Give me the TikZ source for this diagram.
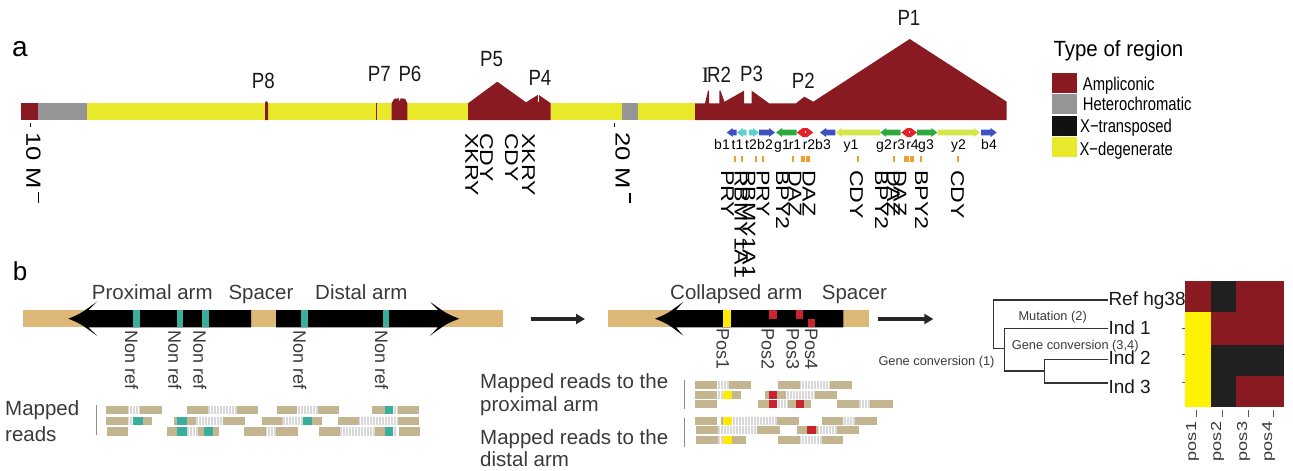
\documentclass[tikz,border=0pt]{standalone}
\usepackage{fontspec}
\setmainfont{Liberation Sans}
\newfontfamily\tallfont[FakeStretch=1.25]{Liberation Sans}
\newfontfamily\narrowfont[FakeStretch=0.8]{Liberation Sans}
\newfontfamily\pfont[FakeStretch=0.85]{Liberation Sans}
\newfontfamily\titlefont[FakeStretch=0.93]{Liberation Sans}
\newfontfamily\serifI{Liberation Serif}
\usetikzlibrary{arrows.meta,patterns}

\definecolor{ampred}{HTML}{8A1A21}
\definecolor{hetgray}{HTML}{959595}
\definecolor{xdeg}{HTML}{E9E92B}
\definecolor{xtrans}{HTML}{111111}
\definecolor{gblue}{HTML}{3F4FBF}
\definecolor{gcyan}{HTML}{5FD0D0}
\definecolor{ggreen}{HTML}{2EAA3C}
\definecolor{gred}{HTML}{E52228}
\definecolor{gyel}{HTML}{D2E84A}
\definecolor{gorange}{HTML}{EFA030}
\definecolor{armtan}{HTML}{DDB876}
\definecolor{nonref}{HTML}{3AAE9C}
\definecolor{readtan}{HTML}{C4B591}
\definecolor{readgray}{HTML}{D8D8D8}
\definecolor{posred}{HTML}{C8232E}
\definecolor{posyel}{HTML}{FFEA00}
\definecolor{txtgray}{HTML}{3A3A3A}
\definecolor{hmblack}{HTML}{202020}
\definecolor{hmyel}{HTML}{FFF200}

\newcommand\fsz[1]{\fontsize{#1}{#1}\selectfont}
% gene arrows on the row y = 132.5 : left-, right- and double-headed
\newcommand\geneL[3]{\fill[#3] (#1,132.5) -- (#1+6,128) -- (#1+6,129.6) -- (#2,129.6) -- (#2,135.4) -- (#1+6,135.4) -- (#1+6,137) -- cycle;}
\newcommand\geneR[3]{\fill[#3] (#2,132.5) -- (#2-6,128) -- (#2-6,129.6) -- (#1,129.6) -- (#1,135.4) -- (#2-6,135.4) -- (#2-6,137) -- cycle;}
\newcommand\geneD[3]{\fill[#3] (#1,132.5) -- (#1+6,128) -- (#2-6,128) -- (#2,132.5) -- (#2-6,137) -- (#1+6,137) -- cycle;
  \draw[white, line width=0.8] ({(#1+#2)/2},130.6) -- ({(#1+#2)/2},133.2);}
% one row of reads: top y, list of x1/x2/style
\newcommand\readrow[2]{\foreach \xa/\xb/\st in {#2}{\fill[\st] (\xa,#1) rectangle (\xb,#1+8.3);}}

\begin{document}
\begin{tikzpicture}[x=1pt,y=-1pt,
  plab/.style={anchor=base west, inner sep=0, font=\pfont\fsz{22}, text=black!90},
  glab/.style={rotate=-90, anchor=base west, inner sep=0, font={\tallfont\fsz{18.5}}},
  mblab/.style={rotate=-90, anchor=base west, inner sep=0, font={\tallfont\fsz{20.5}}},
  slab/.style={anchor=base, inner sep=0, font=\fsz{14}},
  legtext/.style={anchor=base west, inner sep=0, font={\narrowfont\fsz{18.5}}},
  armlab/.style={anchor=base west, inner sep=0, font=\fsz{20.5}, text=txtgray},
  vlab/.style={rotate=-90, anchor=base west, inner sep=0, font=\fsz{18}, text=txtgray},
  hmlab/.style={rotate=90, anchor=base east, inner sep=0, font={\tallfont\fsz{14.5}}, text=txtgray},
  leaf/.style={anchor=base west, inner sep=0, font=\fsz{19}, text=black!90},
  event/.style={anchor=base west, inner sep=0, font=\fsz{12.8}, text=txtgray},
  tree/.style={draw=black!80, line width=1.6},
  flow/.style={draw=black!85, line width=3.5, -{Triangle[length=9pt,width=10pt]}},
  rdtan/.style={fill=readtan},
  rdhatch/.style={fill=readgray, postaction={pattern=vertical lines, pattern color=white}},
  rdteal/.style={fill=nonref},
  rdyel/.style={fill=posyel},
  rdred/.style={fill=posred},
  cellr/.style={fill=ampred},
  cellk/.style={fill=hmblack},
  celly/.style={fill=hmyel}]
\useasboundingbox (0,0) rectangle (1293,471);

% ---------------- panel a ----------------
\node[anchor=base west, inner sep=0, font=\fsz{28}] (lbla) at (12,56.7) {a};

% chromosome bar
\fill[ampred] (21,103.3) rectangle (38,120);
\fill[hetgray] (38,103.3) rectangle (87,120);
\fill[xdeg] (87,103.3) rectangle (695,120);
\fill[hetgray] (622,103.3) rectangle (637.7,120);
\fill[ampred] (265,120) -- (265,103.3) -- (265.6,101.4) -- (267.2,101.4) -- (268,103.3) -- (268,120) -- cycle;
\fill[ampred] (375.7,103.3) rectangle (377.3,120);
\fill[ampred] (391.7,120) -- (391.7,103.3) -- (394,98.8) -- (398.8,98.3) -- (399.7,101.8) -- (400.6,98.3) -- (405.2,98.8) -- (407.3,103.3) -- (407.3,120) -- cycle;
\fill[ampred] (468,120) -- (468,103.3) -- (497.3,81.7) -- (526,102.3) -- (537.7,95) -- (539,95) -- (550.7,103.3) -- (550.7,120) -- cycle;
\draw[white, line width=1] (538.3,94.5) -- (538.3,101.5);
\fill[ampred] (695,120) -- (695,103.3) -- (705,103.3) -- (708,90.7) -- (709,90.7) -- (709,103.3) -- (719.3,103.3) -- (719.3,90.7) -- (720.5,90.7) -- (724.5,101.8) -- (744,90.7) -- (744,103.3) -- (751.7,103.3) -- (751.7,90.7) -- (769,103.3) -- (796,103.3) -- (804.3,96.7) -- (813.3,101.7) -- (909.7,39) -- (1006.7,101.7) -- (1006.7,120) -- cycle;

% palindrome names
\node[plab] (p8) at (251.7,88.3) {P8};
\node[plab] (p7) at (367.7,81.7) {P7};
\node[plab] (p6) at (398.3,81.7) {P6};
\node[plab] (p5) at (480,66) {P5};
\node[plab] (p4) at (528.3,85) {P4};
\node[plab] (ir2) at (701.7,82) {{\serifI I}\kern-2pt R2};
\node[plab] (p3) at (740,81.7) {P3};
\node[plab] (p2) at (791.7,88.3) {P2};
\node[plab] (p1) at (897.3,25) {P1};

% position ticks and labels
\draw[line width=1] (30,123) -- (30,127);
\draw[line width=1] (614.5,123) -- (614.5,127);
\node[mblab] (mb10) at (26.5,132) {10 M};
\node[mblab] (mb20) at (615.5,132) {20 M};
\draw[line width=1.5] (38.5,192) -- (38.5,203);
\draw[line width=1.5] (630,193) -- (630,203);

% genes in P5/P4
\node[glab] (gxkry1) at (465.3,133) {XKRY};
\node[glab] (gcdy1) at (480.2,133) {CDY};
\node[glab] (gcdy2) at (505.2,133) {CDY};
\node[glab] (gxkry2) at (522,133) {XKRY};

% arm arrows of P3, P2 and P1
\geneL{726.7}{736.7}{gblue}
\geneL{736.9}{746.7}{gcyan}
\geneR{749}{759}{gcyan}
\geneR{759.2}{775}{gblue}
\geneL{776}{796.5}{ggreen}
\geneD{796.7}{813.3}{gred}
\geneL{820}{835.3}{gblue}
\geneL{835.7}{880}{gyel}
\geneL{880.2}{900.5}{ggreen}
\geneD{901.2}{917}{gred}
\geneR{917.2}{937.3}{ggreen}
\geneR{937.5}{980}{gyel}
\geneR{981}{996.7}{gblue}

\node[slab] (sb1) at (722,149.3) {b1};
\node[slab] (st1) at (737.5,149.3) {t1};
\node[slab] (st2) at (751,149.3) {t2};
\node[slab] (sb2) at (765,149.3) {b2};
\node[slab] (sg1) at (782,149.3) {g1};
\node[slab] (sr1) at (795,149.3) {r1};
\node[slab] (sr2) at (809,149.3) {r2};
\node[slab] (sb3) at (823,149.3) {b3};
\node[slab] (sy1) at (851,149.3) {y1};
\node[slab] (sg2) at (884,149.3) {g2};
\node[slab] (sr3) at (899,149.3) {r3};
\node[slab] (sr4) at (912.5,149.3) {r4};
\node[slab] (sg3) at (926,149.3) {g3};
\node[slab] (sy2) at (958.5,149.3) {y2};
\node[slab] (sb4) at (989,149.3) {b4};

% gene positions
\foreach \gx in {734.5,741.5,756,762.5,793,857.7,894.3,920.7,957.7}
  {\fill[gorange] (\gx-1,156) rectangle (\gx+1,161.7);}
\fill[gorange] (801,156) rectangle (804.5,161.7);
\fill[gorange] (806,156) rectangle (810,161.7);
\fill[gorange] (904.3,156) rectangle (908.7,161.7);
\fill[gorange] (910,156) rectangle (914.3,161.7);

\node[glab] (gpry1) at (721,170) {PRY};
\node[glab] (grbmy1) at (734.5,170) {RBMY1A1};
\node[glab] (grbmy2) at (742.5,170) {RBMY1A1};
\node[glab] (gpry2) at (756.5,170) {PRY};
\node[glab] (gbpy1) at (776,170) {BPY2};
\node[glab] (gdaz1) at (788.5,170) {DAZ};
\node[glab] (gdaz2) at (802.5,170) {DAZ};
\node[glab] (gcdy3) at (850,170) {CDY};
\node[glab] (gbpy2) at (875,170) {BPY2};
\node[glab] (gdaz3) at (887,170) {DAZ};
\node[glab] (gdaz4) at (893.5,170) {DAZ};
\node[glab] (gbpy3) at (915,170) {BPY2};
\node[glab] (gcdy4) at (951,170) {CDY};

% legend
\node[anchor=base west, inner sep=0, font={\titlefont\fsz{22}}] (legtitle) at (1053.3,56.7) {Type of region};
\fill[ampred] (1051.7,73.3) rectangle (1077.3,92.7);
\fill[hetgray] (1051.7,94) rectangle (1077.3,114);
\fill[xtrans] (1051.7,116) rectangle (1077.3,136);
\fill[xdeg] (1051.7,137.3) rectangle (1077.3,157.3);
\node[legtext] (legamp) at (1082.7,90) {Ampliconic};
\node[legtext] (leghet) at (1082.7,110) {Heterochromatic};
\node[legtext] (legxt) at (1080,132.7) {X−transposed};
\node[legtext] (legxd) at (1079.3,155) {X−degenerate};

% ---------------- panel b ----------------
\node[anchor=base west, inner sep=0, font=\fsz{26}] (lblb) at (12.7,280) {b};

% palindrome with two arms
\node[armlab] (proxlab) at (91.7,299.5) {Proximal arm};
\node[armlab] (spclab) at (228.3,299.5) {Spacer};
\node[armlab] (distlab) at (315,299.5) {Distal arm};
\fill[armtan] (23.3,310) rectangle (503.3,327.3);
\fill[black] (68.3,318.7) .. controls (80,314) .. (97,301.7) -- (88.5,310) -- (251,310) -- (251,327.3) -- (88.5,327.3) -- (97,335.7) .. controls (80,323.4) .. (68.3,318.7) -- cycle;
\fill[black] (276,310) -- (438,310) -- (430,301.7) .. controls (447,314) .. (459.3,318.7) .. controls (447,323.4) .. (430,335.7) -- (438,327.3) -- (276,327.3) -- cycle;
\foreach \mx in {133.3,176.7,202.3,301,382.7}
  {\fill[nonref] (\mx,310) rectangle (\mx+6.7,327.3);}
\node[vlab] (nr1) at (125,330) {Non ref};
\node[vlab] (nr2) at (168.3,330) {Non ref};
\node[vlab] (nr3) at (193.3,330) {Non ref};
\node[vlab] (nr4) at (293.3,330) {Non ref};
\node[vlab] (nr5) at (375,330) {Non ref};

\node[armlab] (mr1) at (5,415.7) {Mapped};
\node[armlab] (mr2) at (5,441.7) {reads};
\draw[black!45, line width=1] (96,405) -- (96,435);
\readrow{406}{106/128.3/rdtan, 128.3/140/rdhatch, 140/161.7/rdtan, 187.3/208.3/rdtan, 208.3/237.3/rdhatch, 237.3/258.3/rdtan, 276.7/296.7/rdtan, 296.7/318.3/rdhatch, 318.3/339.3/rdtan, 371.7/385/rdtan, 385/393.3/rdteal, 393.3/398.3/rdhatch, 398.3/419.3/rdtan}
\readrow{416.7}{106/128.3/rdtan, 128.3/133.3/rdhatch, 133.3/142.7/rdteal, 142.7/151.7/rdtan, 174/177.3/rdtan, 177.3/186.7/rdteal, 186.7/196/rdtan, 196/223.3/rdhatch, 223.3/245/rdtan, 261.7/282.7/rdtan, 282.7/303.3/rdhatch, 303.3/311.7/rdteal, 311.7/321.7/rdtan, 337.7/359.3/rdtan, 359.3/398.3/rdhatch, 398.3/419.3/rdtan}
\readrow{427.3}{106.7/128.3/rdtan, 167.3/177.3/rdtan, 177.3/187.3/rdteal, 187.3/198.3/rdhatch, 198.3/204/rdtan, 204/213.3/rdteal, 213.3/219/rdtan, 244.3/266/rdtan, 266/276/rdhatch, 276/298.3/rdtan, 319/340/rdtan, 340/375/rdhatch, 375/385/rdtan, 385/393.3/rdteal, 393.3/396.7/rdhatch, 399/420/rdtan}

% collapsed reference
\coordinate (flowa) at (530.7,319);
\coordinate (flowb) at (585,319);
\draw[flow] (flowa) -- (flowb);
\node[armlab] (collab) at (670,299.5) {Collapsed arm};
\node[armlab] (spclab2) at (821.7,299.5) {Spacer};
\fill[armtan] (608.3,310) rectangle (869.3,327.3);
\fill[black] (655,318.7) .. controls (667,314) .. (683.3,301.7) -- (676,310) -- (843.3,310) -- (843.3,327.3) -- (676,327.3) -- (683.3,335.7) .. controls (667,323.4) .. (655,318.7) -- cycle;
\fill[posyel] (723.3,310) rectangle (730.7,327.3);
\fill[posred] (769,310) rectangle (776.7,319);
\fill[posred] (795.7,310) rectangle (803.3,319);
\fill[posred] (807.7,319.3) rectangle (815,327.3);
\node[vlab] (pos1) at (716.7,328.3) {Pos1};
\node[vlab] (pos2) at (761.7,328.3) {Pos2};
\node[vlab] (pos3) at (786.7,328.3) {Pos3};
\node[vlab] (pos4) at (805,328.3) {Pos4};

\node[armlab] (mp1) at (480,388.3) {Mapped reads to the};
\node[armlab] (mp2) at (480,411.7) {proximal arm};
\node[armlab] (md1) at (480,444.3) {Mapped reads to the};
\node[armlab] (md2) at (480,466) {distal arm};
\draw[black!45, line width=1] (684,380) -- (684,409.3);
\draw[black!45, line width=1] (684,418.3) -- (684,446.7);
\readrow{381}{695/716.7/rdtan, 716.7/729.3/rdhatch, 729.3/751/rdtan, 778.3/800/rdtan, 800/830/rdhatch, 830/851.7/rdtan}
\readrow{390.7}{695/716.7/rdtan, 716.7/722.7/rdhatch, 722.7/731.7/rdyel, 731.7/740.7/rdtan, 765/769/rdtan, 769/777.3/rdred, 777.3/786/rdtan, 786/815/rdhatch, 815/836.7/rdtan}
\readrow{400}{695/716.7/rdtan, 758.3/769/rdtan, 769/777.3/rdred, 777.3/788.3/rdhatch, 788.3/795.7/rdtan, 795.7/804/rdred, 804/810.7/rdtan, 836.7/859.3/rdtan, 859.3/870/rdhatch, 870/892.7/rdtan}
\readrow{416.7}{695/716.7/rdtan, 720.7/722.7/rdtan, 722.7/731.7/rdyel, 731.7/776.7/rdhatch, 776.7/799.3/rdtan, 821.7/843.3/rdtan, 843.3/855/rdhatch, 855/876.7/rdtan}
\readrow{426}{696/718.3/rdtan, 718.3/757.3/rdhatch, 757.3/780/rdtan, 796.7/806.7/rdtan, 806.7/815.7/rdred, 815.7/818.3/rdtan, 818.3/836.7/rdhatch, 836.7/859.3/rdtan}
\readrow{436}{696/718.3/rdtan, 718.3/722.7/rdhatch, 722.7/731.7/rdyel, 731.7/746/rdtan, 778.3/800/rdtan, 800/821.7/rdhatch, 821.7/843.3/rdtan}

% genealogy of the haplotypes
\coordinate (flowc) at (878.3,319);
\coordinate (flowd) at (933.3,319);
\draw[flow] (flowc) -- (flowd);
\node[leaf] (ref) at (1108.3,305) {Ref hg38};
\node[leaf] (ind1) at (1108.3,334) {Ind 1};
\node[leaf] (ind2) at (1108.3,364) {Ind 2};
\node[leaf] (ind3) at (1108.3,393.3) {Ind 3};
\coordinate (root) at (993.3,300);
\coordinate (rootb) at (993.3,348.3);
\coordinate (na) at (1004.3,328.3);
\coordinate (nab) at (1004.3,371);
\coordinate (nb) at (1044.3,359.3);
\coordinate (nbb) at (1044.3,382.7);
\draw[tree] (root -| ref.west) -- (root) -- (rootb) -- (rootb -| na);
\draw[tree] (na -| ind1.west) -- (na) -- (nab) -- (nab -| nb);
\draw[tree] (nb -| ind2.west) -- (nb) -- (nbb) -- (nbb -| ind3.west);
\node[event] (mut) at (1018.3,320) {Mutation (2)};
\node[event] (gc34) at (1011.7,349.3) {Gene conversion (3,4)};
\node[event] (gc1) at (878.3,365) {Gene conversion (1)};

% genotype matrix
\fill[cellr] (1185,280.7) rectangle (1210.7,312.3);
\fill[cellk] (1210.7,280.7) rectangle (1235.7,312.3);
\fill[cellr] (1235.7,280.7) rectangle (1284,312.3);
\fill[celly] (1185,312.3) rectangle (1210.7,407.3);
\fill[cellr] (1210.7,312.3) rectangle (1284,345);
\fill[cellk] (1210.7,345) rectangle (1284,376);
\fill[cellk] (1210.7,376) rectangle (1235.7,407.3);
\fill[cellr] (1235.7,376) rectangle (1284,407.3);
\foreach \ty in {328.3,354,382}
  {\draw[black!65, line width=0.8] (1182,\ty) -- (1185,\ty);}
\foreach \tx in {1196.7,1222.3,1248.3,1273.3}
  {\draw[black!65, line width=1] (\tx,410) -- (\tx,416.7);}
\node[hmlab] (hp1) at (1196,421.7) {pos1};
\node[hmlab] (hp2) at (1221,421.7) {pos2};
\node[hmlab] (hp3) at (1247,421.7) {pos3};
\node[hmlab] (hp4) at (1272,421.7) {pos4};
\end{tikzpicture}
\end{document}
